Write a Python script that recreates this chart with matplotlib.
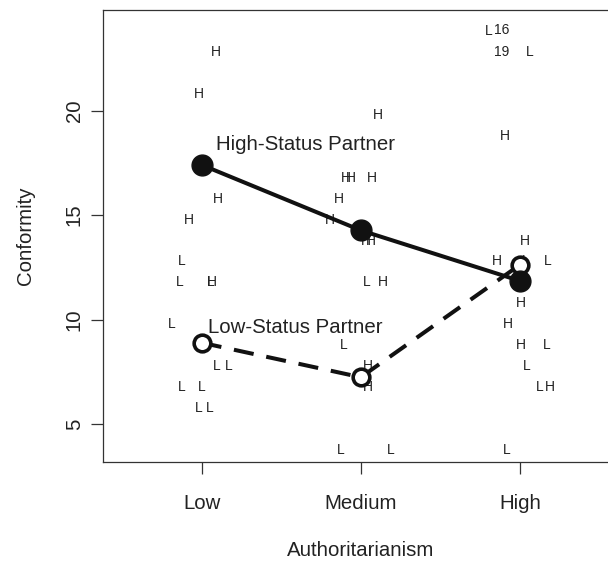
import matplotlib
matplotlib.use('Agg')
import numpy as np
import matplotlib.pyplot as plt

# conformity scores by partner status, with jittered authoritarianism position
levels = ['low', 'medium', 'high']
level_labels = ['Low', 'Medium', 'High']

h_fcat = ['low'] * 5 + ['medium'] * 11 + ['high'] * 7
h_conf = [23, 21, 16, 15, 12,
          20, 17, 17, 17, 16, 15, 14, 14, 12, 8, 7,
          19, 14, 13, 11, 10, 9, 7]
h_xj = [1.088, 0.981, 1.101, 0.922, 1.063,
        2.110, 1.907, 1.938, 2.068, 1.863, 1.806, 2.032, 2.064, 2.141, 2.043, 2.047,
        2.906, 3.031, 2.857, 3.006, 2.923, 3.006, 3.188]

l_fcat = ['low'] * 10 + ['medium'] * 4 + ['high'] * 8
l_conf = [13, 12, 12, 10, 8, 8, 7, 7, 6, 6,
          12, 9, 4, 4,
          24, 23, 13, 13, 9, 8, 7, 4]
l_xj = [0.878, 0.864, 1.058, 0.813, 1.094, 1.173, 0.874, 1.0, 0.979, 1.052,
        2.037, 1.890, 1.875, 2.189,
        2.807, 3.063, 3.034, 3.172, 3.168, 3.042, 3.126, 2.916]

# labelled outliers (observation numbers)
outlier_ids = ['16', '19']
outlier_pos = [(2.885, 23.89), (2.885, 22.86)]

plt.rcParams['font.family'] = ['Liberation Sans', 'DejaVu Sans']
ink = '#222222'

fig = plt.figure(figsize=(6.08, 5.62), dpi=100)
ax = fig.add_axes([0.1694, 0.178, 0.848, 0.804])

for x, y in zip(h_xj, h_conf):
    ax.annotate('H', (x, y), xytext=(0, -6.1), textcoords='offset points',
                ha='center', va='baseline', fontsize=10, color=ink, zorder=2)
for x, y in zip(l_xj, l_conf):
    ax.annotate('L', (x, y), xytext=(0, -6.1), textcoords='offset points',
                ha='center', va='baseline', fontsize=10, color=ink, zorder=2)
for lab, (x, y) in zip(outlier_ids, outlier_pos):
    ax.annotate(lab, (x, y), xytext=(0, -3.6), textcoords='offset points',
                ha='center', va='baseline', fontsize=10, color=ink, zorder=2)

h_conf_a = np.array(h_conf)
l_conf_a = np.array(l_conf)
h_means = [h_conf_a[np.array(h_fcat) == lv].mean() for lv in levels]
l_means = [l_conf_a[np.array(l_fcat) == lv].mean() for lv in levels]

ax.plot([1, 2, 3], l_means, color='#111111', lw=2.9, linestyle=(0, (5, 3.2)),
        marker='o', ms=12, mfc='white', mec='#111111', mew=2.6, zorder=3)
ax.plot([1, 2, 3], h_means, color='#111111', lw=2.9,
        marker='o', ms=15, mfc='#111111', mec='#111111', mew=1, zorder=4)

ax.text(1.088, 18.13, 'High-Status Partner', fontsize=14.7, color=ink,
        ha='left', va='baseline', zorder=5)
ax.text(1.042, 9.37, 'Low-Status Partner', fontsize=14.7, color=ink,
        ha='left', va='baseline', zorder=5)

ax.set_xlim(0.38, 3.62)
ax.set_ylim(3.2, 24.8)
ax.set_xticks([1, 2, 3])
ax.set_xticklabels(level_labels)
ax.set_yticks([5, 10, 15, 20])
ax.tick_params(length=8.9, width=0.9, color='#333333', labelsize=14.7, labelcolor=ink)
ax.tick_params(axis='x', pad=14)
ax.tick_params(axis='y', pad=5)
plt.setp(ax.get_yticklabels(), rotation=90, va='center')
for s in ax.spines.values():
    s.set_color('#333333')
    s.set_linewidth(0.9)

ax.set_xlabel('Authoritarianism', fontsize=14.7, color=ink)
ax.set_ylabel('Conformity', fontsize=14.7, color=ink)
ax.xaxis.set_label_coords(0.5, -0.195)
ax.xaxis.label.set_va('center')
ax.yaxis.set_label_coords(-0.151, 0.5)
ax.yaxis.label.set_va('center')

fig.savefig('out.png', dpi=100)
